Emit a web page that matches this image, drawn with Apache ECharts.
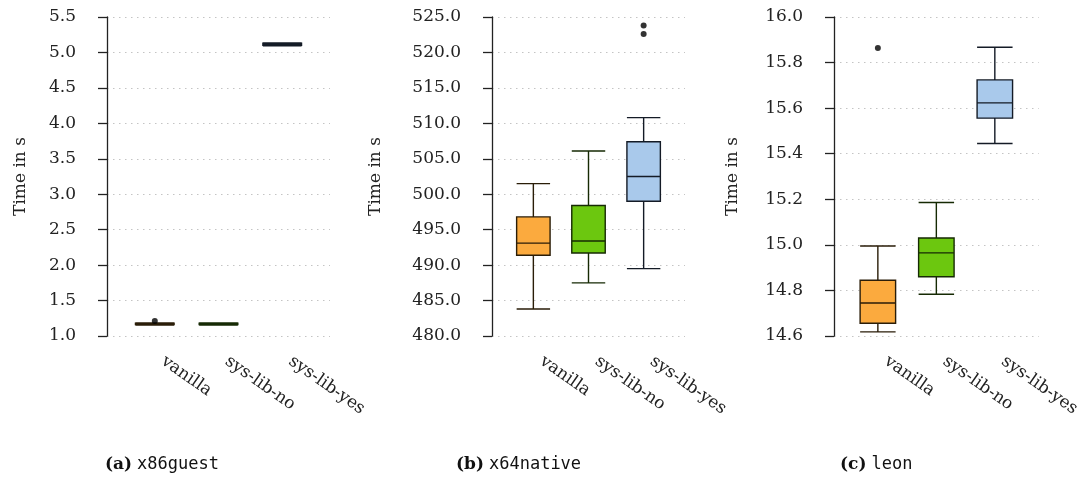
<!DOCTYPE html>
<html>
<head>
<meta charset="utf-8">
<script src="https://cdn.jsdelivr.net/npm/echarts@6/dist/echarts.min.js"></script>
<style>
  html, body { margin: 0; padding: 0; background: #fff; }
  #chart { width: 1083px; height: 481px; }
</style>
</head>
<body>
<div id="chart"></div>
<script>
// Build configurations compared in every panel
const categories = ['vanilla', 'sys-lib-no', 'sys-lib-yes'];
const boxFills = ['#FBAA3E', '#6CC70F', '#A9C9EB'];
const boxBorders = ['#2a1d08', '#162a04', '#141b26'];

// Box statistics per configuration: [min, Q1, median, Q3, max]
const x86guestStats = [
  [1.155, 1.16, 1.17, 1.18, 1.185],
  [1.155, 1.16, 1.17, 1.18, 1.185],
  [5.095, 5.10, 5.115, 5.13, 5.135]
];
const x86guestOutliers = [[1, 1.21]];

const x64nativeStats = [
  [483.8, 491.4, 493.1, 496.8, 501.5],
  [487.5, 491.7, 493.4, 498.4, 506.1],
  [489.5, 499.0, 502.5, 507.4, 510.8]
];
const x64nativeOutliers = [[3, 523.8], [3, 522.6]];

const leonStats = [
  [14.618, 14.656, 14.745, 14.845, 14.995],
  [14.783, 14.860, 14.965, 15.030, 15.186],
  [15.445, 15.556, 15.623, 15.724, 15.867]
];
const leonOutliers = [[1, 15.864]];

// Value-axis ranges and tick steps
const x86guestTicks = { min: 1.0, max: 5.5, interval: 0.5 };
const x64nativeTicks = { min: 480, max: 525, interval: 5 };
const leonTicks = { min: 14.6, max: 16.0, interval: 0.2 };

// Sub-figure captions
const captions = [
  { tag: '(a)', name: 'x86guest' },
  { tag: '(b)', name: 'x64native' },
  { tag: '(c)', name: 'leon' }
];

const serif = 'DejaVu Serif';
const panels = [
  { stats: x86guestStats, outliers: x86guestOutliers, ticks: x86guestTicks, left: 107, width: 223, nameGap: 78, capLeft: 100 },
  { stats: x64nativeStats, outliers: x64nativeOutliers, ticks: x64nativeTicks, left: 492, width: 193, nameGap: 108, capLeft: 451 },
  { stats: leonStats, outliers: leonOutliers, ticks: leonTicks, left: 834, width: 205, nameGap: 93, capLeft: 835 }
];

const grid = [], xAxis = [], yAxis = [], series = [], title = [];

panels.forEach(function (p, i) {
  grid.push({ left: p.left, top: 17, width: p.width, height: 319 });

  xAxis.push({
    type: 'value', gridIndex: i, min: 0.25, max: 3.75,
    axisLine: { show: false }, axisTick: { show: false }, splitLine: { show: false },
    axisLabel: {
      customValues: [1, 2, 3],
      formatter: function (v) { return categories[Math.round(v) - 1] || ''; },
      rotate: -35, margin: 18, padding: [0, 0, 0, 10],
      fontFamily: serif, fontSize: 17, color: '#222'
    }
  });

  yAxis.push({
    type: 'value', gridIndex: i,
    min: p.ticks.min, max: p.ticks.max, interval: p.ticks.interval,
    name: 'Time in s', nameLocation: 'middle', nameGap: p.nameGap,
    nameTextStyle: { fontFamily: serif, fontSize: 17, color: '#222' },
    axisLine: { show: true, lineStyle: { color: '#222', width: 1.3 } },
    axisTick: { show: true, length: 9, lineStyle: { color: '#222', width: 1.3 } },
    axisLabel: {
      margin: 31, fontFamily: serif, fontSize: 17, color: '#222',
      formatter: function (v) { return v.toFixed(1); }
    },
    splitLine: { show: true, lineStyle: { color: '#c4c4c4', width: 1, type: [1.5, 4.5] } }
  });

  series.push({
    type: 'boxplot', layout: 'horizontal',
    xAxisIndex: i, yAxisIndex: i,
    boxWidth: ['52%', '52%'],
    data: p.stats.map(function (s, k) {
      return {
        value: [k + 1].concat(s),
        itemStyle: { color: boxFills[k], borderColor: boxBorders[k], borderWidth: 1.4 }
      };
    }),
    silent: true
  });

  series.push({
    type: 'scatter', xAxisIndex: i, yAxisIndex: i,
    symbol: 'circle', symbolSize: 6,
    itemStyle: { color: '#000' },
    data: p.outliers, silent: true
  });

  title.push({
    left: p.capLeft, top: 451,
    text: '{b|' + captions[i].tag + '} {m|' + captions[i].name + '}',
    textStyle: {
      fontWeight: 'normal',
      rich: {
        b: { fontFamily: serif, fontWeight: 'bold', fontSize: 17, color: '#111' },
        m: { fontFamily: 'DejaVu Sans Mono', fontWeight: 'normal', fontSize: 17, color: '#111' }
      }
    }
  });
});

const chart = echarts.init(document.getElementById('chart'), null, { renderer: 'canvas' });
chart.setOption({
  animation: false,
  backgroundColor: '#fff',
  title: title,
  grid: grid,
  xAxis: xAxis,
  yAxis: yAxis,
  series: series
});
</script>
</body>
</html>
